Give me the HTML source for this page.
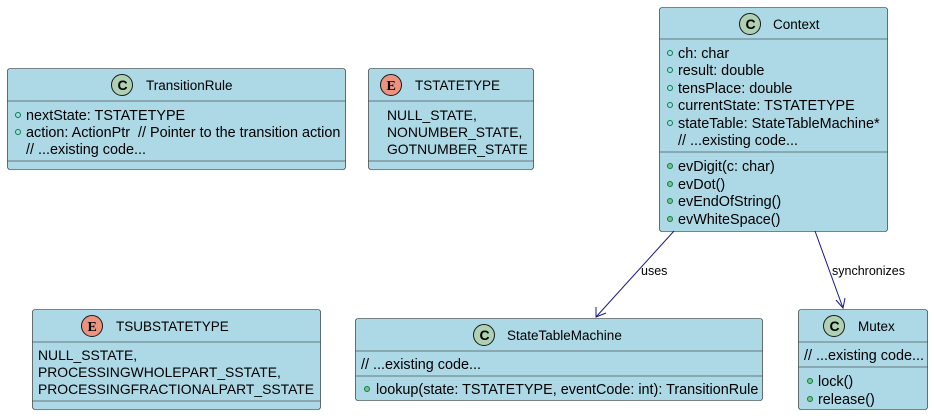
<!DOCTYPE html>
<html><head><style>
body{margin:0;background:#fff;}
svg text{font-family:"Liberation Sans",sans-serif;font-size:14.4px;fill:#000;}
.t{font-size:13.5px;}
.en{font-size:13.9px;}
</style></head><body>
<svg width="934" height="415" xmlns="http://www.w3.org/2000/svg">
<defs>
<g id="c"><circle r="10.5" fill="#ADD1B2" stroke="#181818"/><text x="-4.5" y="5" style="font-size:14px;font-weight:bold">C</text></g>
<g id="e"><circle r="10.5" fill="#EB937F" stroke="#181818"/><text x="-4.5" y="5" style="font-family:'Liberation Serif',serif;font-size:14px;font-weight:bold">E</text></g>
</defs>
<g fill="#ADD8E6" stroke="#181818" stroke-width="0.6">
<rect x="7.5" y="68.5" width="338" height="101" rx="2.5"/>
<line x1="7.5" y1="101" x2="345.5" y2="101"/><line x1="7.5" y1="161" x2="345.5" y2="161"/>
<rect x="368.5" y="68.5" width="165" height="101" rx="2.5"/>
<line x1="368.5" y1="101" x2="533.5" y2="101"/><line x1="368.5" y1="161" x2="533.5" y2="161"/>
<rect x="659.5" y="7.5" width="228" height="224" rx="2.5"/>
<line x1="659.5" y1="39" x2="887.5" y2="39"/><line x1="659.5" y1="152" x2="887.5" y2="152"/>
<rect x="32.5" y="309.5" width="288" height="100" rx="2.5"/>
<line x1="32.5" y1="342" x2="320.5" y2="342"/><line x1="32.5" y1="401" x2="320.5" y2="401"/>
<rect x="355.5" y="318.5" width="407" height="82" rx="2.5"/>
<line x1="355.5" y1="351" x2="762.5" y2="351"/><line x1="355.5" y1="376" x2="762.5" y2="376"/>
<rect x="798.5" y="309.5" width="129" height="100" rx="2.5"/>
<line x1="798.5" y1="342" x2="927.5" y2="342"/><line x1="798.5" y1="367" x2="927.5" y2="367"/>
</g>
<use href="#c" x="122" y="85"/><text class="t" x="146" y="90">TransitionRule</text>
<use href="#e" x="391" y="85"/><text class="t" x="415" y="90">TSTATETYPE</text>
<use href="#c" x="750" y="24"/><text class="t" x="773" y="29">Context</text>
<use href="#e" x="92" y="326"/><text class="t" x="116" y="331">TSUBSTATETYPE</text>
<use href="#c" x="484" y="335"/><text class="t" x="507" y="340">StateTableMachine</text>
<use href="#c" x="834" y="326"/><text class="t" x="858" y="331">Mutex</text>
<g fill="none" stroke="#038048" stroke-width="1">
<circle cx="18" cy="115" r="2.5"/><circle cx="18" cy="132" r="2.5"/>
<circle cx="670" cy="53" r="2.5"/><circle cx="670" cy="70" r="2.5"/><circle cx="670" cy="88" r="2.5"/><circle cx="670" cy="105" r="2.5"/><circle cx="670" cy="123" r="2.5"/>
</g>
<g fill="#84BE84" stroke="#038048" stroke-width="1">
<circle cx="670" cy="166" r="2.5"/><circle cx="670" cy="184" r="2.5"/><circle cx="670" cy="201" r="2.5"/><circle cx="670" cy="219" r="2.5"/>
<circle cx="367" cy="389" r="2.5"/>
<circle cx="810" cy="381" r="2.5"/><circle cx="810" cy="399" r="2.5"/>
</g>
<text x="26" y="120">nextState: TSTATETYPE</text>
<text x="26" y="137" xml:space="preserve">action: ActionPtr  // Pointer to the transition action</text>
<text x="26" y="154">// ...existing code...</text>
<text class="en" x="387" y="120">NULL_STATE,</text>
<text class="en" x="387" y="137">NONUMBER_STATE,</text>
<text class="en" x="387" y="154">GOTNUMBER_STATE</text>
<text x="678" y="58">ch: char</text>
<text x="678" y="75">result: double</text>
<text x="678" y="93">tensPlace: double</text>
<text x="678" y="110">currentState: TSTATETYPE</text>
<text x="678" y="128">stateTable: StateTableMachine*</text>
<text x="678" y="145">// ...existing code...</text>
<text x="678" y="171">evDigit(c: char)</text>
<text x="678" y="189">evDot()</text>
<text x="678" y="206">evEndOfString()</text>
<text x="678" y="224">evWhiteSpace()</text>
<text class="en" x="38" y="360">NULL_SSTATE,</text>
<text class="en" x="38" y="377">PROCESSINGWHOLEPART_SSTATE,</text>
<text class="en" x="38" y="394">PROCESSINGFRACTIONALPART_SSTATE</text>
<text x="361" y="369">// ...existing code...</text>
<text x="376" y="394">lookup(state: TSTATETYPE, eventCode: int): TransitionRule</text>
<text x="804" y="360">// ...existing code...</text>
<text x="818" y="386">lock()</text>
<text x="818" y="404">release()</text>
<g stroke="#181888" stroke-width="1" fill="none">
<line x1="674" y1="231" x2="596" y2="317"/>
<polyline points="596,307 596,317 606,313"/>
<line x1="815" y1="231" x2="843" y2="308"/>
<polyline points="836,300 843,308 845,298"/>
</g>
<text x="641" y="275" style="font-size:12.5px">uses</text>
<text x="832" y="275" style="font-size:12.5px">synchronizes</text>
</svg>
</body></html>
